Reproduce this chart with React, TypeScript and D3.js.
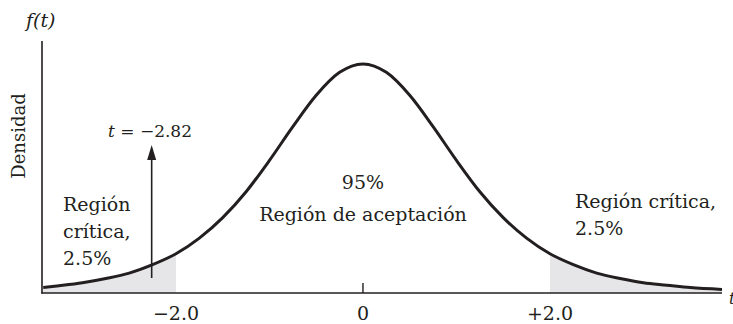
import React from "react";
import * as d3 from "d3";

// t-values (x) and density
const tValues = [-3.42, -3.25, -3.0, -2.75, -2.5, -2.25, -2.0, -1.75, -1.5, -1.25, -1.0, -0.75, -0.5, -0.25, 0,
  0.25, 0.5, 0.75, 1.0, 1.25, 1.5, 1.75, 2.0, 2.25, 2.5, 2.75, 3.0, 3.25, 3.5, 3.84];
const densityValues = [0.009, 0.012, 0.017, 0.024, 0.033, 0.047, 0.065, 0.091, 0.125, 0.168, 0.220, 0.276, 0.328, 0.366, 0.380,
  0.366, 0.328, 0.276, 0.220, 0.168, 0.125, 0.091, 0.065, 0.047, 0.033, 0.024, 0.017, 0.013, 0.009, 0.006];
const tickValues = [-2, 0, 2];
const tickLabels = ["\u22122.0", "0", "+2.0"];
const criticalValue = 2.0;
const observedArrowT = -2.26;

const W = 733, H = 324;
const INK = "#231f20";
const FONT = "DejaVu Serif";

export default function App() {
  const x = d3.scaleLinear().domain([-3.433, 3.84]).range([42, 722]);
  const y = d3.scaleLinear().domain([0, 0.418]).range([293, 41]);
  const pts: [number, number][] = tValues.map((t, i) => [t, densityValues[i]]);
  const line = d3.line<[number, number]>().x(d => x(d[0])).y(d => y(d[1])).curve(d3.curveMonotoneX);
  const area = d3.area<[number, number]>().x(d => x(d[0])).y0(y(0)).y1(d => y(d[1])).curve(d3.curveMonotoneX);

  const interp = (t: number) => {
    for (let i = 0; i < tValues.length - 1; i++) {
      if (t >= tValues[i] && t <= tValues[i + 1]) {
        const f = (t - tValues[i]) / (tValues[i + 1] - tValues[i]);
        return densityValues[i] + f * (densityValues[i + 1] - densityValues[i]);
      }
    }
    return 0;
  };
  const leftPts: [number, number][] = [...pts.filter(p => p[0] < -criticalValue), [-criticalValue, interp(-criticalValue)]];
  const rightPts: [number, number][] = [[criticalValue, interp(criticalValue)], ...pts.filter(p => p[0] > criticalValue)];

  const ax = x(observedArrowT);
  const fs = 19;

  return (
    <svg width={W} height={H} style={{ position: "absolute", left: 0, top: 0, background: "#fff" }} fontFamily={FONT}>
      <path d={area(leftPts) || ""} fill="#e6e6e8" />
      <path d={area(rightPts) || ""} fill="#e6e6e8" />
      <line x1={42} x2={42} y1={41} y2={293.5} stroke={INK} strokeWidth={1.6} />
      <line x1={41.2} x2={722} y1={293} y2={293} stroke={INK} strokeWidth={1.6} />
      <line x1={x(0)} x2={x(0)} y1={283} y2={293} stroke={INK} strokeWidth={1.4} />
      <path d={line(pts) || ""} fill="none" stroke={INK} strokeWidth={3} />
      {tickValues.map((v, i) => (
        <text key={i} x={x(v)} y={320} textAnchor="middle" fontSize={fs} fill={INK}>{tickLabels[i]}</text>
      ))}
      <text x={26} y={27} fontSize={fs} fontStyle="italic" fill={INK}>f(t)</text>
      <text transform="translate(25,136) rotate(-90)" textAnchor="middle" fontSize={18} fill={INK}>Densidad</text>
      <text x={729} y={304} fontSize={16} fontStyle="italic" fill={INK}>t</text>
      <line x1={ax} x2={ax} y1={278} y2={158} stroke={INK} strokeWidth={1.6} />
      <path d={`M${ax},145 L${ax - 4.5},160 L${ax + 4.5},160 Z`} fill={INK} />
      <text x={150} y={137} textAnchor="middle" fontSize={17} fill={INK}>
        <tspan fontStyle="italic">t</tspan> = {"\u2212"}2.82
      </text>
      <text fontSize={fs} fill={INK}>
        <tspan x={63} y={211}>Región</tspan>
        <tspan x={63} y={238}>crítica,</tspan>
        <tspan x={63} y={265}>2.5%</tspan>
      </text>
      <text x={x(0)} y={189} textAnchor="middle" fontSize={fs} fill={INK}>95%</text>
      <text x={x(0)} y={221} textAnchor="middle" fontSize={fs} fill={INK}>Región de aceptación</text>
      <text fontSize={fs} fill={INK}>
        <tspan x={575} y={208}>Región crítica,</tspan>
        <tspan x={575} y={235}>2.5%</tspan>
      </text>
    </svg>
  );
}
